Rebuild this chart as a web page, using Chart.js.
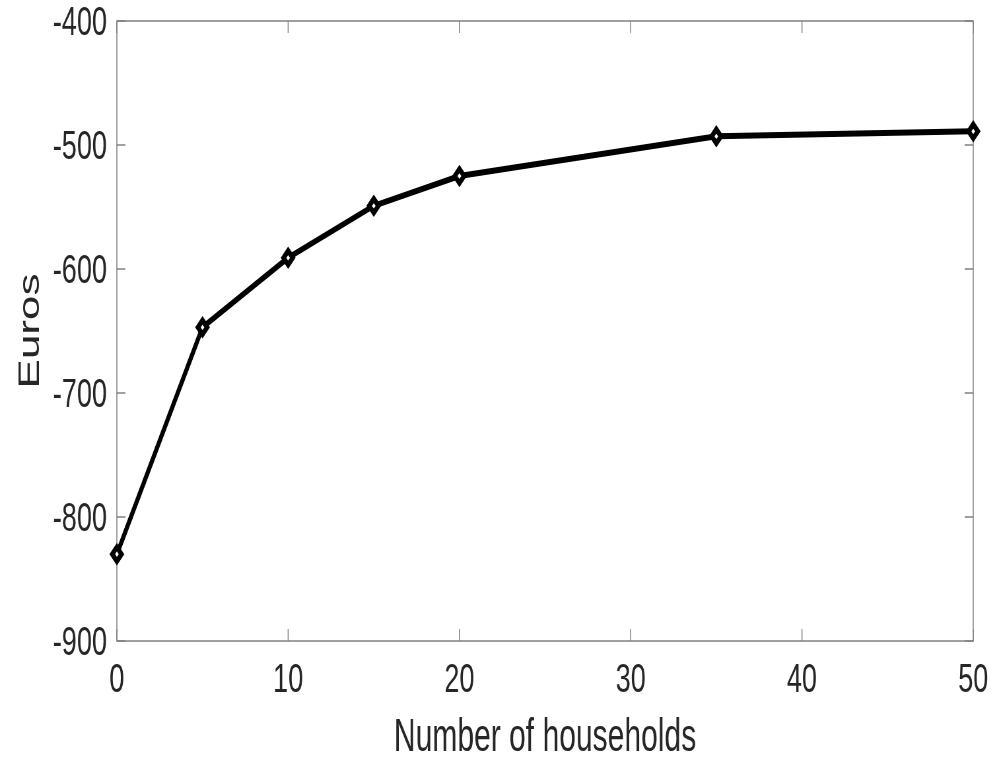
<!DOCTYPE html>
<html>
<head>
<meta charset="utf-8">
<script src="https://cdn.jsdelivr.net/npm/chart.js@4/dist/chart.umd.min.js"></script>
<style>
html,body{margin:0;padding:0;overflow:hidden;background:#fff;width:997px;height:758px;}
#wrap{position:absolute;left:0;top:0;width:1510px;height:758px;transform:scaleX(0.66026);transform-origin:0 0;}
</style>
</head>
<body>
<div id="wrap"><canvas id="c"></canvas></div>
<script>
// Data
const households = [0, 5, 10, 15, 20, 35, 50];
const euros = [-830, -647, -591, -549, -525, -493, -489];
const xTicks = [0, 10, 20, 30, 40, 50];
const yTicks = [-900, -800, -700, -600, -500, -400];

const TEXT = '#262626';
const FONT = '"Liberation Sans", Arial, Helvetica, sans-serif';

const boxPlugin = {
  id: 'matlabBox',
  beforeDatasetsDraw(chart) {
    const {ctx, chartArea: a, scales: {x, y}} = chart;
    ctx.save();
    ctx.strokeStyle = '#808080';
    ctx.lineWidth = 1.5;
    ctx.strokeRect(a.left, a.top, a.right - a.left, a.bottom - a.top);
    ctx.beginPath();
    xTicks.forEach(v => {
      const px = x.getPixelForValue(v);
      ctx.moveTo(px, a.bottom); ctx.lineTo(px, a.bottom - 12);
      ctx.moveTo(px, a.top); ctx.lineTo(px, a.top + 12);
    });
    yTicks.forEach(v => {
      const py = y.getPixelForValue(v);
      ctx.moveTo(a.left, py); ctx.lineTo(a.left + 13, py);
      ctx.moveTo(a.right, py); ctx.lineTo(a.right - 13, py);
    });
    ctx.stroke();
    ctx.restore();
  }
};

new Chart(document.getElementById('c'), {
  type: 'line',
  data: {
    datasets: [{
      data: households.map((h, i) => ({x: h, y: euros[i]})),
      borderColor: '#000',
      borderWidth: 6,
      tension: 0,
      pointStyle: 'rectRot',
      pointRadius: 7,
      pointBorderWidth: 6,
      pointBorderColor: '#000',
      pointBackgroundColor: '#fff',
      clip: false
    }]
  },
  options: {
    responsive: true,
    maintainAspectRatio: false,
    animation: false,
    devicePixelRatio: 1,
    layout: {autoPadding: false, padding: {left: 0, right: 36, top: 21, bottom: 0}},
    plugins: {legend: {display: false}, tooltip: {enabled: false}},
    scales: {
      x: {
        type: 'linear', min: 0, max: 50,
        afterBuildTicks: s => { s.ticks = xTicks.map(v => ({value: v})); },
        afterFit: s => { s.height = 117; s.paddingLeft = 0; s.paddingRight = 0; },
        grid: {display: false, drawTicks: false},
        border: {display: false},
        ticks: {color: TEXT, padding: 15, font: {family: FONT, size: 41, lineHeight: 1.2}, maxRotation: 0},
        title: {display: true, text: 'Number of households', color: TEXT,
                font: {family: FONT, size: 45.5, lineHeight: 0.86}, padding: {top: 0, bottom: 0}}
      },
      y: {
        type: 'linear', min: -900, max: -400,
        afterBuildTicks: s => { s.ticks = yTicks.map(v => ({value: v})); },
        afterFit: s => { s.width = 177; s.paddingTop = 0; s.paddingBottom = 0; },
        grid: {display: false, drawTicks: false},
        border: {display: false},
        ticks: {color: TEXT, padding: 15, labelOffset: 3, font: {family: FONT, size: 41, lineHeight: 1.2}},
        title: {display: true, text: 'Euros', color: TEXT,
                font: {family: FONT, size: 44, lineHeight: 1}, padding: {top: 25, bottom: 0}}
      }
    }
  },
  plugins: [boxPlugin]
});
</script>
</body>
</html>
